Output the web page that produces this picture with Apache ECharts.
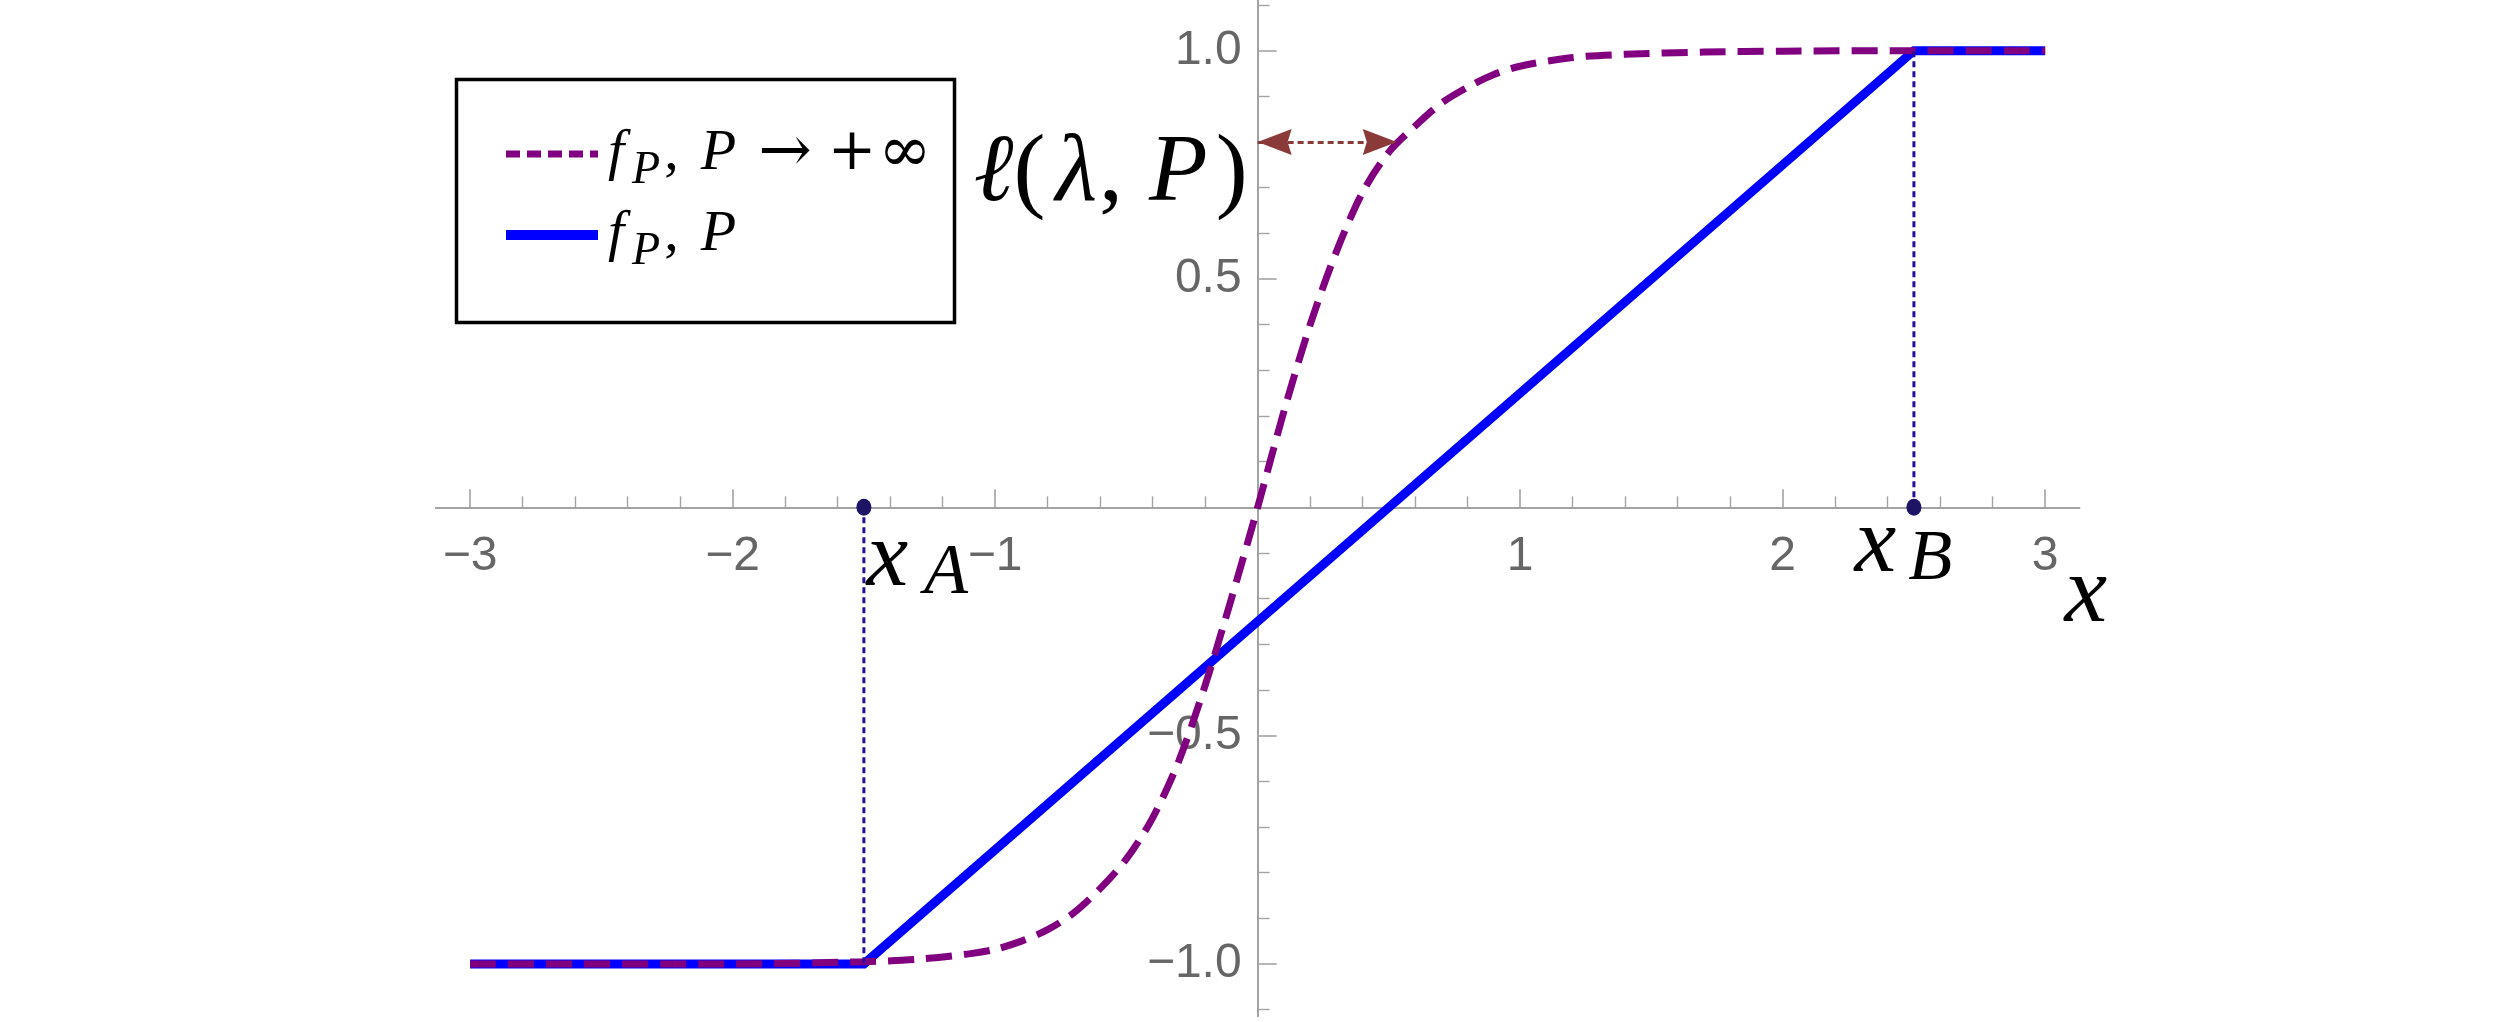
<!DOCTYPE html>
<html>
<head>
<meta charset="utf-8">
<script src="https://cdn.jsdelivr.net/npm/echarts@6/dist/echarts.min.js"></script>
<style>html,body{margin:0;padding:0;background:#fff}#c{width:2500px;height:1022px}</style>
</head>
<body>
<div id="c"></div>
<script>
// ---------------- data ----------------
const xMajorTicks = [-3, -2, -1, 1, 2, 3];
const xTickLabels = ['−3', '−2', '−1', '1', '2', '3'];
const xMinorTicks = [-2.8, -2.6, -2.4, -2.2, -1.8, -1.6, -1.4, -1.2, -0.8, -0.6, -0.4, -0.2,
                     0.2, 0.4, 0.6, 0.8, 1.2, 1.4, 1.6, 1.8, 2.2, 2.4, 2.6, 2.8];
const yMajorTicks = [-1, -0.5, 0.5, 1];
const yTickLabels = ['−1.0', '−0.5', '0.5', '1.0'];
const yMinorTicks = [-1.1, -0.9, -0.8, -0.7, -0.6, -0.4, -0.3, -0.2, -0.1,
                     0.1, 0.2, 0.3, 0.4, 0.6, 0.7, 0.8, 0.9, 1.1];

// f_P, P  (piecewise linear)
const blueX = [-3, -1.5, 2.5, 3];
const blueY = [-1, -1, 1, 1];

// f_P, P -> +inf  (sigmoid-like)
const purpleX = [-3, -2, -1.5, -1.3, -1.1, -1.0, -0.9, -0.8, -0.7, -0.6, -0.5, -0.4, -0.3, -0.2, -0.1,
                 0, 0.1, 0.2, 0.3, 0.4, 0.5, 0.6, 0.7, 0.8, 0.9, 1.0, 1.2, 1.4, 1.7, 2.0, 2.5, 3];
const purpleY = [-1, -1, -0.995, -0.99, -0.978, -0.968, -0.95, -0.925, -0.888, -0.835, -0.77, -0.68, -0.555, -0.39, -0.2,
                 0, 0.21, 0.4, 0.56, 0.69, 0.778, 0.835, 0.885, 0.92, 0.948, 0.966, 0.985, 0.992, 0.997, 0.999, 1, 1];

// special points x_A, x_B
const pointNames = ['A', 'B'];
const pointX = [-1.5, 2.5];
const pointY = [0, 0];
const guideEndY = [-1, 1];

// double arrow  ℓ(λ, P)
const arrowY = 0.8;
const arrowX = [0, 0.53];

const legendNames = ['f_P, P → +∞', 'f_P, P'];

// ---------------- layout / styles ----------------
const SANS = '"Liberation Sans", Arial, sans-serif';
const SERIF = '"Liberation Serif", "Times New Roman", serif';
const SYM = '"DejaVu Serif", serif';
const AXIS_GREY = '#a3a3a3';
const TICK_TEXT = '#666666';

const G = { left: 436, right: 420.7, top: 0, bottom: 6, W: 2500, H: 1022 };
const xRange = { min: -3.13, max: 3.13 };
const yRange = { min: -1.114, max: 1.111 };
const gridW = G.W - G.left - G.right;
const gridH = G.H - G.top - G.bottom;
// move axes so that they cross at the origin (x = 0, y = 0)
const yAxisOffset = -((0 - xRange.min) / (xRange.max - xRange.min)) * gridW;
const xAxisOffset = -((0 - yRange.min) / (yRange.max - yRange.min)) * gridH;

const zip = (xs, ys) => xs.map((x, i) => [x, ys[i]]);

const pointRich = (subPad) => ({
  i: { fontFamily: SERIF, fontStyle: 'italic', fontSize: 94, lineHeight: 100, color: '#000' },
  s: { fontFamily: SERIF, fontStyle: 'italic', fontSize: 72, lineHeight: 62, verticalAlign: 'bottom', color: '#000', padding: [0, 0, 0, subPad] }
});

const legendRich = {
  f: { fontFamily: SERIF, fontStyle: 'italic', fontSize: 58, lineHeight: 80, color: '#000', padding: [0, 8, 0, 5] },
  s: { fontFamily: SERIF, fontStyle: 'italic', fontSize: 46, lineHeight: 56, verticalAlign: 'bottom', color: '#000', padding: [0, 4, 0, 0] },
  c: { fontFamily: SERIF, fontSize: 58, lineHeight: 80, color: '#000', padding: [0, 22, 0, 0] },
  p: { fontFamily: SERIF, fontStyle: 'italic', fontSize: 58, lineHeight: 80, color: '#000', padding: [0, 22, 0, 0] },
  a: { fontFamily: SYM, fontSize: 64, lineHeight: 80, color: '#000', padding: [0, 16, 0, 0] },
  pl: { fontFamily: SYM, fontSize: 58, lineHeight: 80, color: '#000', padding: [0, 2, 0, 0] },
  inf: { fontFamily: SYM, fontSize: 64, lineHeight: 80, color: '#000' }
};
const legendText = {
  'f_P, P → +∞': '{f|f}{s|P}{c|,}{p|P}{a|→}{pl|+}{inf|∞}',
  'f_P, P': '{f|f}{s|P}{c|,}{p|P}'
};

// arrow head whose tip sits at the symbol centre (invisible move-to extends the box)
const ARROW_HEAD = 'path://M12.5,-34 M12.5,0 L25,34 L12.5,30 L0,34 Z';

const chart = echarts.init(document.getElementById('c'), null, { renderer: 'canvas' });

const option = {
  animation: false,
  backgroundColor: '#ffffff',
  grid: { left: G.left, right: G.right, top: G.top, bottom: G.bottom, containLabel: false, outerBoundsMode: 'none' },
  xAxis: [
    {
      type: 'value', min: xRange.min, max: xRange.max, position: 'bottom', offset: xAxisOffset,
      axisLine: { show: true, onZero: false, lineStyle: { color: AXIS_GREY, width: 2 } },
      axisTick: { show: true, inside: true, length: 18, customValues: xMajorTicks, lineStyle: { color: AXIS_GREY, width: 1.6 } },
      axisLabel: {
        show: true, customValues: xMajorTicks, margin: 25, hideOverlap: false,
        formatter: v => xTickLabels[xMajorTicks.indexOf(v)] || '',
        color: TICK_TEXT, fontSize: 48, fontFamily: SANS
      },
      splitLine: { show: false },
      name: 'x', nameLocation: 'end', nameGap: -16,
      nameTextStyle: {
        fontFamily: SERIF, fontStyle: 'italic', fontSize: 96, color: '#000',
        align: 'left', verticalAlign: 'top', lineHeight: 96, padding: [40, 0, 0, 0]
      }
    },
    {
      type: 'value', min: xRange.min, max: xRange.max, position: 'bottom', offset: xAxisOffset,
      axisLine: { show: true, onZero: false, lineStyle: { color: AXIS_GREY, width: 2 } },
      axisTick: { show: true, inside: true, length: 11, customValues: xMinorTicks, lineStyle: { color: AXIS_GREY, width: 1.4 } },
      axisLabel: { show: false },
      splitLine: { show: false }
    }
  ],
  yAxis: [
    {
      type: 'value', min: yRange.min, max: yRange.max, position: 'left', offset: yAxisOffset,
      axisLine: { show: true, onZero: false, lineStyle: { color: AXIS_GREY, width: 2 } },
      axisTick: { show: true, inside: true, length: 19, customValues: yMajorTicks, lineStyle: { color: AXIS_GREY, width: 1.6 } },
      axisLabel: {
        show: true, customValues: yMajorTicks, margin: 16, hideOverlap: false,
        formatter: v => yTickLabels[yMajorTicks.indexOf(v)] || '',
        color: TICK_TEXT, fontSize: 48, fontFamily: SANS
      },
      splitLine: { show: false }
    },
    {
      type: 'value', min: yRange.min, max: yRange.max, position: 'left', offset: yAxisOffset,
      axisLine: { show: true, onZero: false, lineStyle: { color: AXIS_GREY, width: 2 } },
      axisTick: { show: true, inside: true, length: 12, customValues: yMinorTicks, lineStyle: { color: AXIS_GREY, width: 1.4 } },
      axisLabel: { show: false },
      splitLine: { show: false }
    }
  ],
  legend: {
    show: true, orient: 'vertical', left: 501, top: 122, padding: 0,
    itemWidth: 92, itemHeight: 20, itemGap: 12, selectedMode: false,
    data: [
      { name: legendNames[0], itemStyle: { opacity: 0 }, lineStyle: { type: [14, 7], width: 7, color: '#800080' } },
      { name: legendNames[1], itemStyle: { opacity: 0 }, lineStyle: { type: 'solid', width: 10, color: '#0000ff' } }
    ],
    formatter: name => legendText[name],
    textStyle: { rich: legendRich }
  },
  graphic: [
    { type: 'rect', left: 454, top: 77, z: 100, silent: true,
      shape: { width: 498, height: 243 },
      style: { fill: 'none', stroke: '#000', lineWidth: 3.5 } }
  ],
  series: [
    {
      name: legendNames[1], type: 'line', data: zip(blueX, blueY),
      symbol: 'none', z: 2, silent: true,
      lineStyle: { color: '#0000ff', width: 9, cap: 'butt', join: 'miter' },
      itemStyle: { color: '#0000ff' }
    },
    {
      name: legendNames[0], type: 'line', data: zip(purpleX, purpleY),
      symbol: 'none', z: 3, silent: true, smooth: 0.3,
      lineStyle: { color: '#800080', width: 7, type: [26, 12], cap: 'butt' },
      itemStyle: { color: '#800080' }
    },
    ...pointX.map((px, k) => ({
      name: 'guide' + pointNames[k], type: 'line', data: [[px, pointY[k]], [px, guideEndY[k]]],
      symbol: 'none', z: 4, silent: true,
      lineStyle: { color: '#2a0c9c', width: 3, type: [6, 4] }
    })),
    {
      name: 'points', type: 'scatter', z: 6, silent: true,
      symbol: 'circle', symbolSize: [15, 17],
      itemStyle: { color: '#1d1466', opacity: 1 },
      data: [
        { value: [pointX[0], pointY[0]],
          label: { show: true, position: [10, 61], align: 'left', verticalAlign: 'middle',
                   formatter: '{i|x}{s|' + pointNames[0] + '}', rich: pointRich(16) } },
        { value: [pointX[1], pointY[1]],
          label: { show: true, position: [-52, 47], align: 'left', verticalAlign: 'middle',
                   formatter: '{i|x}{s|' + pointNames[1] + '}', rich: pointRich(12) } }
      ]
    },
    {
      name: 'arrow', type: 'line', data: [], z: 5, silent: true,
      markLine: {
        silent: true, animation: false,
        symbol: [ARROW_HEAD, ARROW_HEAD],
        symbolSize: [26, 68],
        label: { show: false },
        lineStyle: { color: '#8b3a3a', width: 3, type: [6, 4], opacity: 1 },
        itemStyle: { color: '#8b3a3a' },
        emphasis: { disabled: true },
        data: [[{ coord: [arrowX[0], arrowY] }, { coord: [arrowX[1], arrowY] }]]
      },
      markPoint: {
        silent: true, symbol: 'circle', symbolSize: 0,
        data: [{
          coord: [arrowX[0], arrowY],
          label: {
            show: true, position: [-10, 33], align: 'right', verticalAlign: 'middle',
            formatter: '{i|ℓ}{r|(}{l|λ}{c|,}{p|P}{r|)}',
            rich: {
              i: { fontFamily: SERIF, fontStyle: 'italic', fontSize: 96, lineHeight: 110, color: '#000' },
              r: { fontFamily: SERIF, fontSize: 96, lineHeight: 110, color: '#000' },
              l: { fontFamily: SERIF, fontStyle: 'italic', fontSize: 96, lineHeight: 110, color: '#000', padding: [0, 0, 0, 10] },
              c: { fontFamily: SERIF, fontSize: 96, lineHeight: 110, color: '#000', padding: [0, 0, 0, 2] },
              p: { fontFamily: SERIF, fontStyle: 'italic', fontSize: 96, lineHeight: 110, color: '#000', padding: [0, 8, 0, 26] }
            }
          }
        }]
      }
    }
  ]
};
chart.setOption(option);
</script>
</body>
</html>
